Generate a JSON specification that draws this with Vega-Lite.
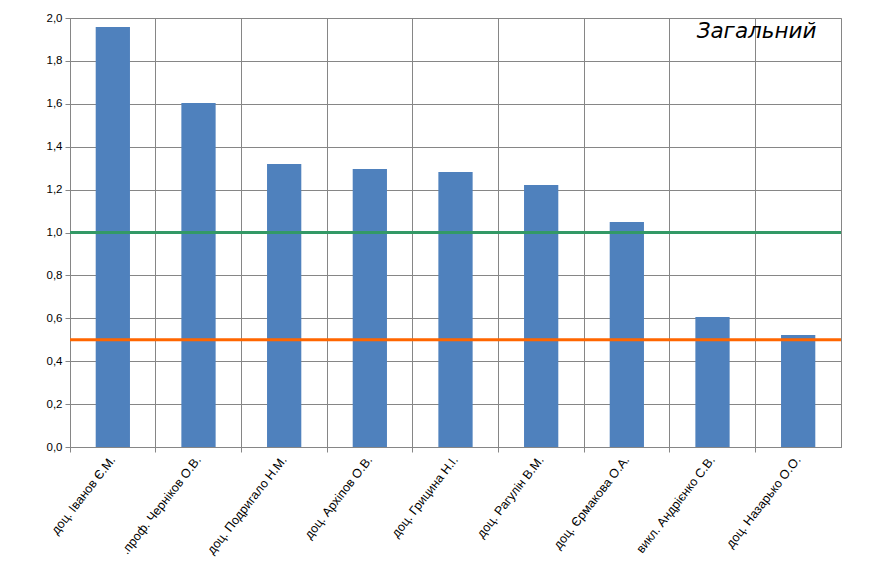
{
  "$schema": "https://vega.github.io/schema/vega-lite/v6.json",
  "width": 771,
  "height": 429,
  "autosize": {"type": "none"},
  "padding": {"left": 70, "top": 18, "right": 42, "bottom": 131},
  "background": "white",
  "config": {
    "view": {"stroke": "#868686", "strokeWidth": 1},
    "font": "Liberation Sans"
  },
  "title": {
    "text": "Загальний",
    "anchor": "end",
    "orient": "top",
    "offset": -30,
    "dx": -26,
    "fontSize": 21.5,
    "fontStyle": "italic",
    "fontWeight": "normal",
    "font": "DejaVu Sans",
    "color": "black"
  },
  "layer": [
    {
      "data": {
        "values": [
          {"name": "доц. Іванов Є.М.", "value": 1.958},
          {"name": ".проф. Черніков О.В.", "value": 1.604},
          {"name": "доц. Подригало Н.М.", "value": 1.319},
          {"name": "доц. Архіпов О.В.", "value": 1.296},
          {"name": "доц. Грицина Н.І.", "value": 1.282},
          {"name": "доц. Рагулін В.М.", "value": 1.221},
          {"name": "доц. Єрмакова О.А.", "value": 1.049},
          {"name": "викл. Андрієнко С.В.", "value": 0.606},
          {"name": "доц. Назарько О.О.", "value": 0.522}
        ]
      },
      "mark": {"type": "bar", "color": "#4f81bd", "width": {"band": 0.4}},
      "encoding": {
        "x": {
          "field": "name",
          "type": "nominal",
          "sort": null,
          "scale": {"paddingInner": 0, "paddingOuter": 0},
          "axis": {
            "title": null,
            "bandPosition": 0,
            "labelAngle": -52,
            "labelFontSize": 12.5,
            "labelColor": "black",
            "labelPadding": 5,
            "grid": true,
            "gridColor": "#868686",
            "tickColor": "#868686",
            "domainColor": "#868686",
            "tickSize": 5
          }
        },
        "y": {
          "field": "value",
          "type": "quantitative",
          "scale": {"domain": [0, 2], "nice": false},
          "axis": {
            "title": null,
            "values": [0, 0.2, 0.4, 0.6, 0.8, 1.0, 1.2, 1.4, 1.6, 1.8, 2.0],
            "labelExpr": "replace(format(datum.value, '.1f'), '.', ',')",
            "labelFontSize": 11.5,
            "labelColor": "black",
            "labelPadding": 3,
            "grid": true,
            "gridColor": "#868686",
            "tickColor": "#868686",
            "domainColor": "#868686",
            "tickSize": 5
          }
        }
      }
    },
    {
      "data": {"values": [{"level": 1.0}]},
      "mark": {"type": "rule", "color": "#339966", "strokeWidth": 3},
      "encoding": {"y": {"field": "level", "type": "quantitative"}}
    },
    {
      "data": {"values": [{"level": 0.5}]},
      "mark": {"type": "rule", "color": "#ff6600", "strokeWidth": 3},
      "encoding": {"y": {"field": "level", "type": "quantitative"}}
    }
  ]
}
